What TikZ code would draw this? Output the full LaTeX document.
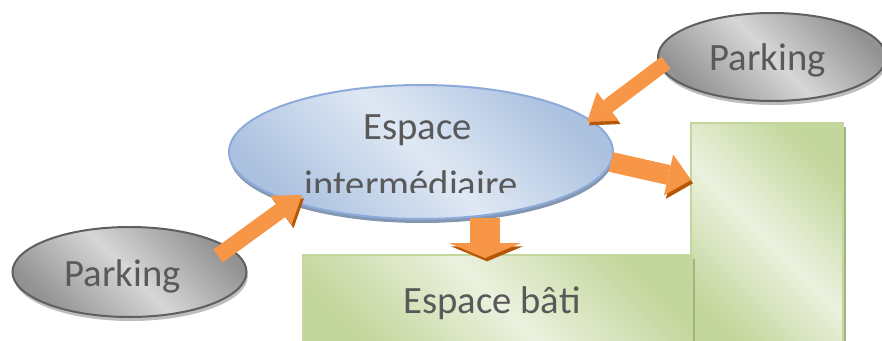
\documentclass[tikz,border=0pt]{standalone}
\usepackage{fontspec}
\setmainfont{Carlito}
\usepackage{tikz}
\usetikzlibrary{shapes.geometric, arrows.meta, shadows}

\definecolor{txtgray}{HTML}{595959}
\definecolor{blueLight}{HTML}{DFE8F4}
\definecolor{blueDark}{HTML}{ABC1DF}
\definecolor{blueLine}{HTML}{8EAADB}
\definecolor{blueShadow}{HTML}{8497B0}
\definecolor{grayLight}{HTML}{D6D6D6}
\definecolor{grayDark}{HTML}{929292}
\definecolor{grayLine}{HTML}{5F5F5F}
\definecolor{grayShadow}{HTML}{BDBDBD}
\definecolor{greenLight}{HTML}{EBF1DE}
\definecolor{greenDark}{HTML}{C3D69B}
\definecolor{greenShadow}{HTML}{A3B585}
\definecolor{arrOrange}{HTML}{F79646}
\definecolor{arrShadow}{HTML}{B65708}

\begin{document}
\begin{tikzpicture}[x=0.75pt, y=0.75pt,
    lbl/.style={text=txtgray, font=\fontsize{29}{35}\selectfont, inner sep=0pt, anchor=base},
    blob/.style={ellipse, draw=blueLine, line width=1.5pt, inner sep=0pt,
        top color=blueDark, bottom color=blueDark, middle color=blueLight, shading angle=135,
        drop shadow={shadow xshift=0.5pt, shadow yshift=-3pt, fill=blueShadow, opacity=1}},
    lot/.style={ellipse, draw=grayLine, line width=1.5pt, inner sep=0pt,
        top color=grayDark, bottom color=grayDark, middle color=grayLight, shading angle=135,
        drop shadow={shadow xshift=1pt, shadow yshift=-3pt, fill=grayShadow, opacity=1}},
    built/.style={draw=greenDark, line width=1.5pt, inner sep=0pt,
        top color=greenDark, bottom color=greenDark, middle color=greenLight, shading angle=135,
        drop shadow={shadow xshift=2.25pt, shadow yshift=-3pt, fill=greenShadow, opacity=1}},
    flow/.style n args={3}{draw=arrOrange, line width=#1,
        -{Triangle[width=#2, length=#3, line width=0pt]},
        preaction={draw=arrShadow, transform canvas={xshift=1.5pt, yshift=-2.5pt}}}]
\useasboundingbox (0,0) rectangle (882,340);

% Built space
\node[built, minimum width=114pt, minimum height=170.25pt] (tower) at (767,103.5) {};
\node[built, minimum width=291.75pt, minimum height=71.25pt] (bati) at (497.5,37.5) {};

% Intermediate space and parking lots
\node[blob, minimum width=288pt, minimum height=100.5pt] (inter) at (421,188) {};
\node[lot, minimum width=175.5pt, minimum height=67.5pt] (pkL) at (129.5,68) {};
\node[lot, minimum width=171pt, minimum height=66pt] (pkR) at (772,283) {};

% Flows
\coordinate (pkR-out) at (666,277.5);
\coordinate (inter-inR) at (587,218);
\coordinate (pkL-out) at (218,84);
\coordinate (inter-inL) at (302,145);
\coordinate (inter-outR) at (611,178);
\coordinate (tower-in) at (691,160);
\coordinate (inter-outB) at (485,122);
\coordinate (bati-in) at (485,82);
\draw[flow={11.25pt}{27pt}{19.5pt}] (pkR-out) -- (inter-inR);
\draw[flow={12pt}{27pt}{19.5pt}] (pkL-out) -- (inter-inL);
\draw[flow={15pt}{31.5pt}{17.25pt}] (inter-outR) -- (tower-in);
\draw[flow={22.5pt}{54pt}{11.25pt}] (inter-outB) -- (bati-in);

% Texts
\node[lbl] (inter-t1) at (417.5,201) {Espace};
\begin{scope}
  \clip (0,148) rectangle (882,340);
  \node[lbl] (inter-t2) at (411,143) {intermédiaire};
\end{scope}
\node[lbl] (pkL-t) at (122.5,54) {Parking};
\node[lbl] (pkR-t) at (767.5,269) {Parking};
\node[lbl] (bati-t) at (492,27) {Espace bâti};
\end{tikzpicture}
\end{document}
